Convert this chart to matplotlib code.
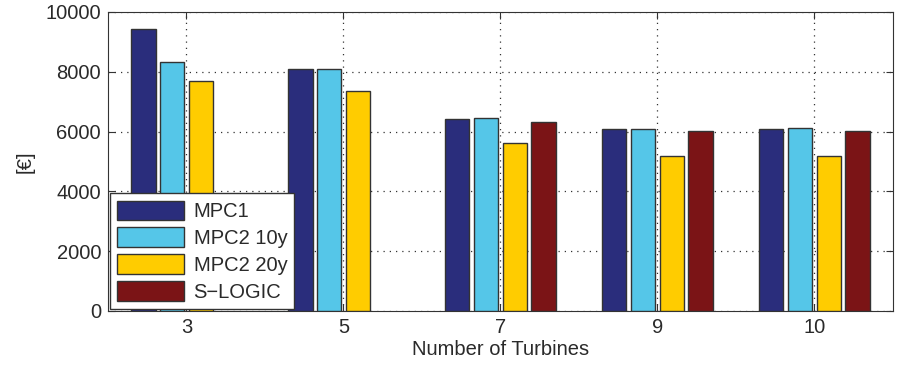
import matplotlib
matplotlib.use("Agg")
import matplotlib.pyplot as plt
import numpy as np

categories = ["3", "5", "7", "9", "10"]
series_names = ["MPC1", "MPC2 10y", "MPC2 20y", "S\u2212LOGIC"]
mpc1 = [9430, 8090, 6410, 6090, 6090]
mpc2_10y = [8330, 8090, 6450, 6090, 6130]
mpc2_20y = [7690, 7360, 5630, 5190, 5190]
s_logic = [0, 0, 6320, 6010, 6010]
yticks = [0, 2000, 4000, 6000, 8000, 10000]

colors = ["#2a2d7c", "#55c6e8", "#ffcc00", "#7b1416"]
txt = "#2a2a2a"
fs = 14.5

plt.rcParams['font.family'] = ['Liberation Sans', 'DejaVu Sans']
fig = plt.figure(figsize=(9, 3.72), dpi=100)
ax = fig.add_axes([0.12, 0.164, 0.872, 0.804])

x = np.arange(1, len(categories) + 1)
data = [mpc1, mpc2_10y, mpc2_20y, s_logic]
step = 0.183
width = 0.155
for i, (vals, c, name) in enumerate(zip(data, colors, series_names)):
    offs = (i - 1.5) * step
    v = np.array(vals, dtype=float)
    v[v == 0] = np.nan
    ax.bar(x + offs, v, width=width, color=c, edgecolor="#333333",
           linewidth=1.0, label=name, zorder=3)

ax.set_xlim(0.5, 5.5)
ax.set_ylim(0, 10000)
ax.set_xticks(x)
ax.set_xticklabels(categories)
ax.set_yticks(yticks)
ax.tick_params(direction='in', top=True, right=True, labelsize=fs, length=5,
               color="#333333", labelcolor=txt, pad=5)
ax.grid(True, linestyle=(0, (1, 4)), color="#333333", linewidth=0.9, zorder=0)
for s in ax.spines.values():
    s.set_color("#333333")
ax.set_xlabel("Number of Turbines", fontsize=fs, labelpad=2, color=txt)
ax.set_ylabel("[\u20ac]", fontsize=fs, labelpad=8, color=txt)

leg = ax.legend(loc='lower left', bbox_to_anchor=(0.0, 0.0), fontsize=fs,
                frameon=True, fancybox=False, edgecolor="#333333",
                framealpha=1.0,
                handlelength=3.3, handleheight=1.1, borderpad=0.35,
                labelspacing=0.32, handletextpad=0.5, borderaxespad=0.1)
leg.get_frame().set_linewidth(1.0)
leg.set_zorder(5)
for t in leg.get_texts():
    t.set_color(txt)

fig.savefig("out.png", dpi=100)
